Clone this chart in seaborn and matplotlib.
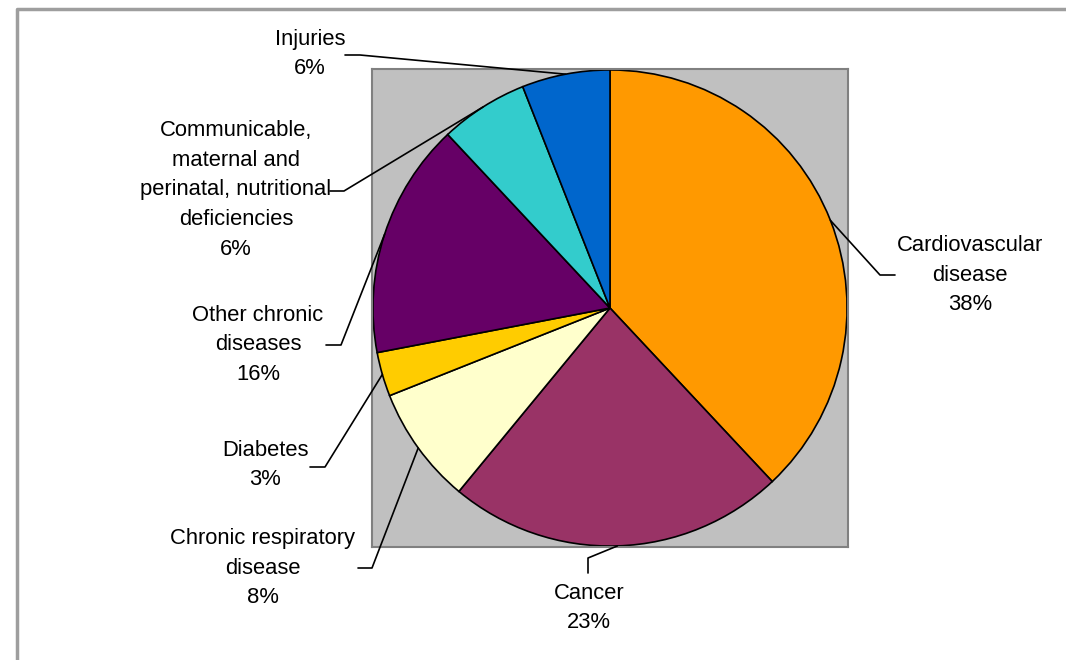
import numpy as np
import matplotlib
matplotlib.use("Agg")
import matplotlib.pyplot as plt
from matplotlib.lines import Line2D
import seaborn as sns

# ---- data ----
categories = ["Cardiovascular\ndisease", "Cancer", "Chronic respiratory\ndisease",
              "Diabetes", "Other chronic\ndiseases",
              "Communicable,\nmaternal and\nperinatal, nutritional\ndeficiencies",
              "Injuries"]
shares = [38, 23, 8, 3, 16, 6, 6]
colors = ["#FF9900", "#993366", "#FFFFCC", "#FFCC00", "#660066", "#33CCCC", "#0066CC"]

sns.set_style("white")
plt.rcParams['font.family'] = ['Liberation Sans', 'DejaVu Sans']

W, H = 1066, 660
fig = plt.figure(figsize=(W / 100, H / 100), dpi=100)
fig.patch.set_facecolor("white")

# plot area (gray box) in pixel coords: x 372-848, y 69-547
bx0, bx1, by0, by1 = 372, 848, 69, 547
ax = fig.add_axes([bx0 / W, 1 - by1 / H, (bx1 - bx0) / W, (by1 - by0) / H])

pal = sns.color_palette(colors)
wedges, _ = ax.pie(shares, colors=pal, startangle=90, counterclock=False,
                   radius=0.996, center=(0, 0), frame=True,
                   wedgeprops=dict(edgecolor="black", linewidth=1.2))
for w in wedges:
    w.set_clip_on(False)
ax.set_xlim(-1, 1)
ax.set_ylim(-1, 1)
ax.set_aspect("auto")
ax.set_frame_on(True)
ax.patch.set_visible(True)
ax.set_facecolor("#C0C0C0")
for s in ax.spines.values():
    s.set_visible(True)
    s.set_color("#808080")
    s.set_linewidth(1.5)
ax.set_xticks([])
ax.set_yticks([])

def px2fig(x, y):
    return x / W, 1 - y / H

# label layout: (text center x, text center y, elbow point, end point) in pixels
layout = [
    (970, 275, (880, 275), (895, 275)),
    (589, 608, (588, 558), (588, 573)),
    (263, 568, (372, 568), (358, 568)),
    (265, 465, (325, 467), (310, 467)),
    (258, 345, (341, 345), (326, 345)),
    (236, 190, (344, 191), (330, 191)),
    (310, 54, (360, 55), (345, 55)),
]

inv = fig.transFigure.inverted()
for w, cat, val, (tx, ty, elbow, end) in zip(wedges, categories, shares, layout):
    mid = np.deg2rad((w.theta1 + w.theta2) / 2)
    ex, ey = w.r * np.cos(mid), w.r * np.sin(mid)
    fx, fy = inv.transform(ax.transData.transform((ex, ey)))
    e1 = px2fig(*elbow)
    e2 = px2fig(*end)
    fig.add_artist(Line2D([fx, e1[0], e2[0]], [fy, e1[1], e2[1]],
                          color="black", linewidth=1.2, transform=fig.transFigure))
    tfx, tfy = px2fig(tx, ty)
    fig.text(tfx, tfy, f"{cat}\n{val}%", ha="center", va="center",
             multialignment="center", fontsize=15.8, linespacing=1.55,
             color="black")

# outer chart border (extends beyond right/bottom edges)
bl = px2fig(17, 700)
tl = px2fig(17, 9)
tr = px2fig(1100, 9)
fig.add_artist(Line2D([bl[0], tl[0], tr[0]], [bl[1], tl[1], tr[1]],
                      color="#9E9E9E", linewidth=2.5, transform=fig.transFigure))

fig.savefig("out.png", dpi=100, facecolor="white")
